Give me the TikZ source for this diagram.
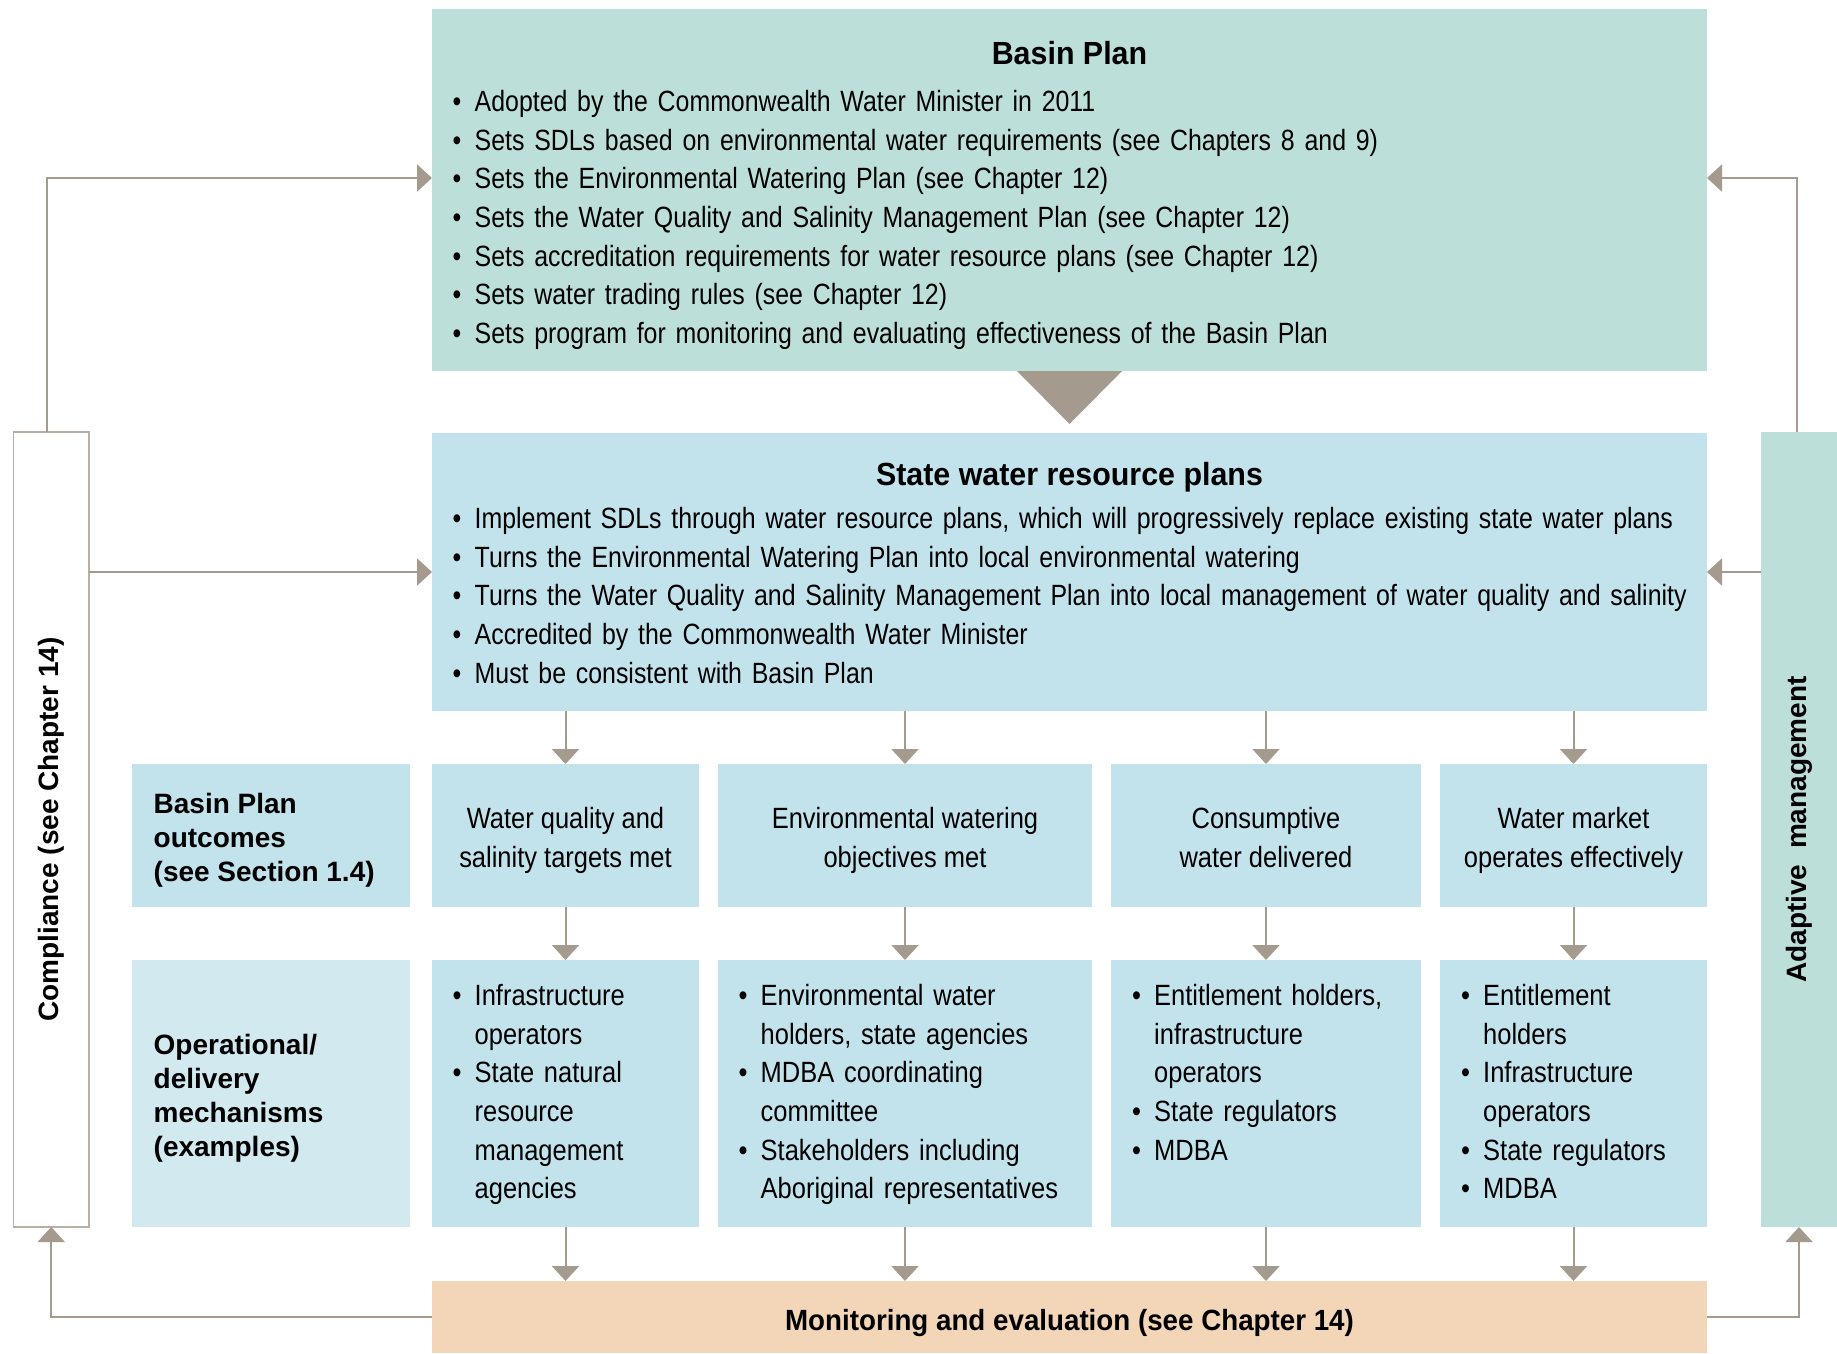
\documentclass[tikz,border=0pt]{standalone}
\usepackage{fontspec}
\setmainfont{Liberation Sans}[FakeStretch=0.87]
\newfontfamily\planfont{Liberation Sans}[FakeStretch=0.85]
\newfontfamily\headfont{Liberation Sans}[FakeStretch=0.95]
\newfontfamily\labelfont{Liberation Sans}
\usepackage{xcolor}
\usetikzlibrary{arrows.meta, positioning, calc}

\definecolor{basingreen}{HTML}{BCE0D9}
\definecolor{stateblue}{HTML}{C2E3EC}
\definecolor{paleblue}{HTML}{D2E9F0}
\definecolor{monpeach}{HTML}{F2D6B7}
\definecolor{flowgray}{HTML}{A59A8E}

\setlength{\parskip}{0pt}
\setlength{\parindent}{0pt}
\newlength{\bulw}\setlength{\bulw}{22pt}
\newcommand{\bodysize}{\fontsize{29.3}{38.6}\selectfont}
\newcommand{\titlesize}{\fontsize{32}{38}\selectfont}
\newcommand{\labelsize}{\fontsize{28}{34}\selectfont}
\newcommand{\bul}[1]{\noindent\makebox[\bulw][l]{\textbullet}\strut#1\par}
\newcommand{\cont}[1]{\noindent\hspace*{\bulw}\strut#1\par}

\tikzset{
	panel/.style={fill=stateblue, inner sep=0pt, outer sep=0pt},
	listtext/.style={anchor=north west, inner sep=0pt, font=\bodysize},
	rowtext/.style={inner sep=0pt, align=center, font=\bodysize},
	labeltext/.style={anchor=west, inner sep=0pt, align=left, font=\labelfont\bfseries\labelsize},
	flow/.style={draw=flowgray, line width=2pt, -{Triangle[length=15pt,width=27pt]}}
}

\begin{document}
\begin{tikzpicture}[x=1pt, y=-1pt]
	\useasboundingbox (0,0) rectangle (1837,1353);

	% main plan boxes
	\node[panel, fill=basingreen, minimum width=1275pt, minimum height=362pt] (basin) at (1069.5,190) {};
	\node[panel, minimum width=1275pt, minimum height=278pt] (state) at (1069.5,572) {};
	\node[font=\headfont\bfseries\titlesize] (basintitle) at (1069.5,53) {Basin Plan};
	\node[font=\headfont\bfseries\titlesize] (statetitle) at (1069.5,477) {State water resource plans};

	\node[listtext, font=\planfont\bodysize, text width=1260pt, below right=75.5pt and 20.5pt of basin.north west] (basintxt) {%
		\bul{Adopted by the Commonwealth Water Minister in 2011}
		\bul{Sets SDLs based on environmental water requirements (see Chapters 8 and 9)}
		\bul{Sets the Environmental Watering Plan (see Chapter 12)}
		\bul{Sets the Water Quality and Salinity Management Plan (see Chapter 12)}
		\bul{Sets accreditation requirements for water resource plans (see Chapter 12)}
		\bul{Sets water trading rules (see Chapter 12)}
		\bul{Sets program for monitoring and evaluating effectiveness of the Basin Plan}};
	\node[listtext, font=\planfont\bodysize, text width=1290pt, below right=68.5pt and 20.5pt of state.north west] (statetxt) {%
		\bul{Implement SDLs through water resource plans, which will progressively replace existing state water plans}
		\bul{Turns the Environmental Watering Plan into local environmental watering}
		\bul{Turns the Water Quality and Salinity Management Plan into local management of water quality and salinity}
		\bul{Accredited by the Commonwealth Water Minister}
		\bul{Must be consistent with Basin Plan}};

	\fill[flowgray] ($(basin.south)+(-52.5,0)$) -- ($(basin.south)+(52.5,0)$) -- ($(basin.south)+(0,53)$) -- cycle;

	% side bars
	\node[panel, fill=white, draw=flowgray!80, line width=1.5pt, minimum width=75.5pt, minimum height=795pt] (comp) at (51.25,829.5) {};
	\node[rotate=90, font=\labelfont\bfseries\labelsize] (comptxt) at (comp.center) {Compliance (see Chapter 14)};
	\node[panel, fill=basingreen, minimum width=76pt, minimum height=795pt] (adapt) at (1799,829.5) {};
	\node[rotate=90, font=\labelfont\bfseries\labelsize] (adapttxt) at (adapt.center) {Adaptive\ \ management};

	% outcomes row
	\node[panel, minimum width=278pt, minimum height=143pt] (outlbl) at (271,835.5) {};
	\node[labeltext] (outtxt) at (153.5,840) {Basin Plan\\outcomes\\(see Section 1.4)};
	\node[panel, minimum width=267pt, minimum height=143pt] (o1) at (565.5,835.5) {};
	\node[panel, minimum width=374pt, minimum height=143pt] (o2) at (905,835.5) {};
	\node[panel, minimum width=310pt, minimum height=143pt] (o3) at (1266,835.5) {};
	\node[panel, minimum width=267pt, minimum height=143pt] (o4) at (1573.5,835.5) {};
	\node[rowtext, below=37.5pt of o1.north] (o1txt) {\strut Water quality and\\\strut salinity targets met};
	\node[rowtext, below=37.5pt of o2.north] (o2txt) {\strut Environmental watering\\\strut objectives met};
	\node[rowtext, below=37.5pt of o3.north] (o3txt) {\strut Consumptive\\\strut water delivered};
	\node[rowtext, below=37.5pt of o4.north] (o4txt) {\strut Water market\\\strut operates effectively};

	% delivery row
	\node[panel, fill=paleblue, minimum width=278pt, minimum height=267pt] (oplbl) at (271,1093.5) {};
	\node[labeltext] (optxt) at (153.5,1098.5) {Operational/\\delivery\\mechanisms\\(examples)};
	\node[panel, minimum width=267pt, minimum height=267pt] (m1) at (565.5,1093.5) {};
	\node[panel, minimum width=374pt, minimum height=267pt] (m2) at (905,1093.5) {};
	\node[panel, minimum width=310pt, minimum height=267pt] (m3) at (1266,1093.5) {};
	\node[panel, minimum width=267pt, minimum height=267pt] (m4) at (1573.5,1093.5) {};

	\node[listtext, text width=240pt, below right=18.5pt and 20.5pt of m1.north west] (m1txt) {%
		\bul{Infrastructure}\cont{operators}
		\bul{State natural}\cont{resource}\cont{management}\cont{agencies}};
	\node[listtext, text width=350pt, below right=18.5pt and 20.5pt of m2.north west] (m2txt) {%
		\bul{Environmental water}\cont{holders, state agencies}
		\bul{MDBA coordinating}\cont{committee}
		\bul{Stakeholders including}\cont{Aboriginal representatives}};
	\node[listtext, text width=285pt, below right=18.5pt and 21pt of m3.north west] (m3txt) {%
		\bul{Entitlement holders,}\cont{infrastructure}\cont{operators}
		\bul{State regulators}
		\bul{MDBA}};
	\node[listtext, text width=240pt, below right=18.5pt and 21pt of m4.north west] (m4txt) {%
		\bul{Entitlement}\cont{holders}
		\bul{Infrastructure}\cont{operators}
		\bul{State regulators}
		\bul{MDBA}};

	\node[panel, fill=monpeach, minimum width=1275pt, minimum height=72pt] (mon) at (1069.5,1317) {};
	\node[font=\headfont\bfseries\fontsize{29.2}{34}\selectfont] (montxt) at (1069.5,1323) {Monitoring and evaluation (see Chapter 14)};

	% connectors
	\coordinate (lt) at (47,178);
	\coordinate (rt) at (1797,178);
	\draw[flow] ([xshift=-4pt]comp.north) |- (basin.west |- lt);
	\draw[flow] ([xshift=-2pt]adapt.north) |- (basin.east |- rt);
	\draw[flow] (comp.east |- state.west) -- (state.west);
	\draw[flow] (adapt.west |- state.east) -- (state.east);
	\foreach \i in {1,...,4} {
		\draw[flow] (state.south -| o\i) -- (o\i.north);
		\draw[flow] (o\i.south) -- (m\i.north);
		\draw[flow] (m\i.south) -- (m\i.south |- mon.north);
	}
	\draw[flow] (mon.west) -| (comp.south);
	\draw[flow] (mon.east) -| (adapt.south);
\end{tikzpicture}
\end{document}
